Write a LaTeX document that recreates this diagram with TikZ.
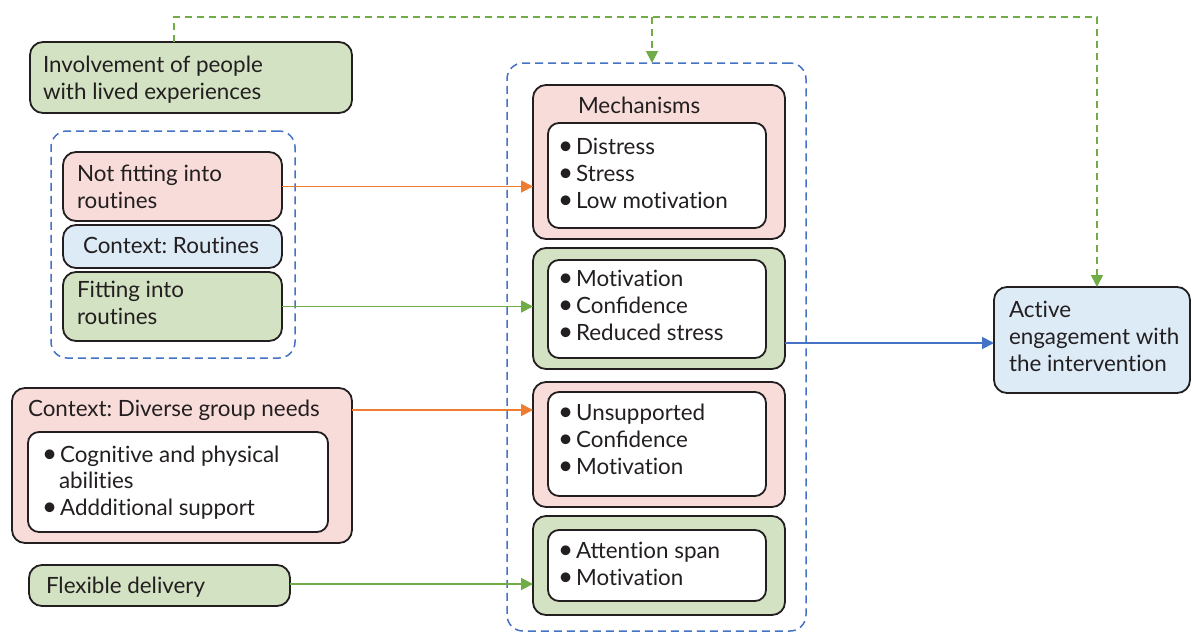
\documentclass[tikz,border=0pt]{standalone}
\usepackage{fontspec}
\setmainfont{Lato}
\usetikzlibrary{arrows.meta}
\definecolor{pinkf}{HTML}{F8DCD9}
\definecolor{greenf}{HTML}{D3E2C2}
\definecolor{bluef}{HTML}{DDEBF7}
\definecolor{orng}{HTML}{ED7D31}
\definecolor{grn}{HTML}{70AD47}
\definecolor{blu}{HTML}{4472C4}
\definecolor{edgec}{HTML}{231F20}
\definecolor{txtc}{HTML}{231F20}
\frenchspacing
\newcommand\tix{t\kern0pt i}
\newcommand\bul{{\fontsize{26}{27}\selectfont\textbullet}\hspace{3pt}}
\tikzset{
  boxbase/.style={draw=edgec, line width=1.8pt, rounded corners=13pt, anchor=north west, inner sep=0pt, outer sep=0pt},
  pinkbox/.style={boxbase, fill=pinkf},
  greenbox/.style={boxbase, fill=greenf},
  bluebox/.style={boxbase, fill=bluef},
  whitebox/.style={boxbase, fill=white, rounded corners=11pt},
  dashbox/.style={draw=blu, line width=1.5pt, dash pattern=on 8pt off 5pt, rounded corners=16pt, anchor=north west, inner sep=0pt, outer sep=0pt},
  txt/.style={anchor=base west, inner sep=0pt, outer sep=0pt, text=txtc, font=\fontsize{22.4}{27}\selectfont},
  conn/.style={line width=1.8pt, -{Triangle[length=12pt,width=12pt]}},
  gdash/.style={draw=grn, line width=1.6pt, dash pattern=on 7pt off 5pt, -{Triangle[length=12pt,width=12pt]}}
}
\begin{document}
\begin{tikzpicture}[x=1pt,y=-1pt]
\useasboundingbox (0,0) rectangle (1192,633);
% dashed groups
\node[dashbox, minimum width=244pt, minimum height=227pt] (leftgrp) at (51,131) {};
\node[dashbox, minimum width=299pt, minimum height=568pt] (mechbig) at (507,63) {};
% left boxes
\node[greenbox, minimum width=322pt, minimum height=71pt] (invol) at (30,42) {};
\node[pinkbox, minimum width=219pt, minimum height=69pt] (notfit) at (63,152) {};
\node[bluebox, minimum width=219pt, minimum height=43pt] (ctxr) at (63,225) {};
\node[greenbox, minimum width=219pt, minimum height=69pt] (fit) at (63,272) {};
\node[pinkbox, minimum width=340pt, minimum height=155pt] (diverse) at (12,388) {};
\node[whitebox, minimum width=300pt, minimum height=100pt] (divin) at (28,432) {};
\node[greenbox, minimum width=261pt, minimum height=41pt] (flex) at (29,565) {};
% mechanism boxes
\node[pinkbox, minimum width=252pt, minimum height=154pt] (mech1) at (533,85) {};
\node[whitebox, minimum width=218pt, minimum height=105pt] (mech1in) at (548,123) {};
\node[greenbox, minimum width=252pt, minimum height=121pt] (mech2) at (533,248) {};
\node[whitebox, minimum width=218pt, minimum height=98pt] (mech2in) at (548,260) {};
\node[pinkbox, minimum width=252pt, minimum height=125pt] (mech3) at (533,382) {};
\node[whitebox, minimum width=218pt, minimum height=104pt] (mech3in) at (548,392) {};
\node[greenbox, minimum width=252pt, minimum height=99pt] (mech4) at (533,516) {};
\node[whitebox, minimum width=218pt, minimum height=71pt] (mech4in) at (548,530) {};
% outcome
\node[bluebox, minimum width=196pt, minimum height=106pt] (active) at (994,287) {};
% texts
\node[txt] (t1) at (43,72) {Involvement of people};
\node[txt] (t2) at (43,99) {with lived experiences};
\node[txt] (t3) at (77,181) {Not fitting into};
\node[txt] (t4) at (77,208) {rou\tix nes};
\node[txt] (t5) at (83,253) {Context: Rou\tix nes};
\node[txt] (t6) at (77,297) {Fitting into};
\node[txt] (t7) at (77,324) {rou\tix nes};
\node[txt] (t8) at (28,416) {Context: Diverse group needs};
\node[txt] (t9) at (42,462) {\bul Cogni\tix ve and physical};
\node[txt] (t10) at (59,488) {abili\tix es};
\node[txt] (t11) at (42,515) {\bul Adddi\tix onal support};
\node[txt] (t12) at (46,593) {Flexible delivery};
\node[txt] (m0) at (578,113) {Mechanisms};
\node[txt] (m1) at (558,154) {\bul Distress};
\node[txt] (m2) at (558,181) {\bul Stress};
\node[txt] (m3) at (558,208) {\bul Low mo\tix va\tix on};
\node[txt] (m4) at (558,286) {\bul Mo\tix va\tix on};
\node[txt] (m5) at (558,313) {\bul Confidence};
\node[txt] (m6) at (558,340) {\bul Reduced stress};
\node[txt] (m7) at (558,420) {\bul Unsupported};
\node[txt] (m8) at (558,447) {\bul Confidence};
\node[txt] (m9) at (558,474) {\bul Mo\tix va\tix on};
\node[txt] (m10) at (558,558) {\bul Atten\tix on span};
\node[txt] (m11) at (558,585) {\bul Mo\tix va\tix on};
\node[txt] (a1) at (1009,317) {Ac\tix ve};
\node[txt] (a2) at (1009,344) {engagement with};
\node[txt] (a3) at (1009,371) {the interven\tix on};
% connectors
\draw[conn, orng] (notfit.east) -- (notfit.east -| mech1.west);
\draw[conn, grn] (fit.east) -- (fit.east -| mech2.west);
\coordinate (o2) at (352,410);
\draw[conn, orng] (o2) -- (o2 -| mech3.west);
\coordinate (f2) at (290,584);
\draw[conn, grn] (f2) -- (f2 -| mech4.west);
\coordinate (b0) at (785,343);
\draw[conn, blu] (b0) -- (b0 -| active.west);
\coordinate (gtop) at (0,17);
\coordinate (g0) at (174,42);
\coordinate (g1) at (1097,287);
\coordinate (g2) at (652,63);
\draw[gdash] (g0) |- (g1 |- gtop) -- (g1);
\draw[gdash] (g2 |- gtop) -- (g2);
\end{tikzpicture}
\end{document}
